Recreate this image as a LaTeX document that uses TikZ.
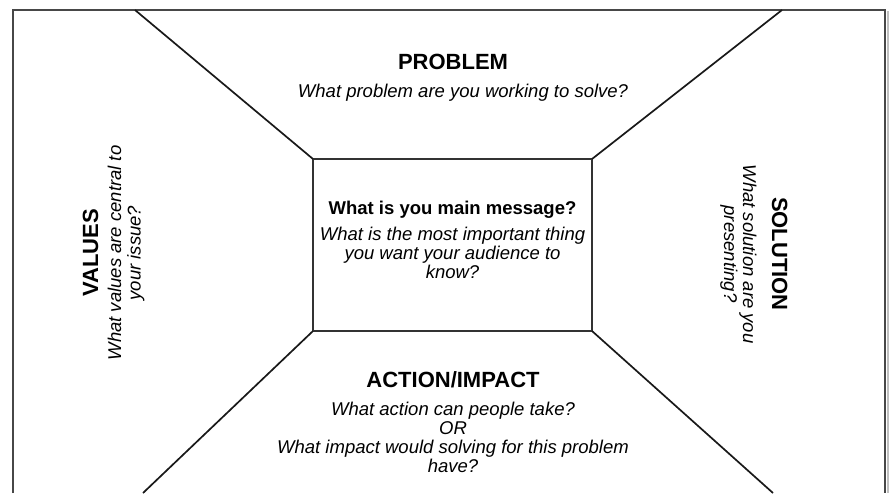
\documentclass[tikz,border=0pt]{standalone}
\usepackage{fontspec}
\setmainfont{Liberation Sans}
\begin{document}
\begin{tikzpicture}[x=1pt,y=-1pt,
  head/.style={font=\fontsize{22}{24}\selectfont\bfseries, inner sep=0pt, anchor=base},
  sub/.style={font=\fontsize{18.5}{19}\selectfont\bfseries, inner sep=0pt, anchor=base},
  ital/.style={font=\fontsize{18.5}{19}\selectfont\itshape, inner sep=0pt, anchor=base},
  frameline/.style={draw=black!72, line width=1.5pt},
  diag/.style={draw=black!90, line width=1.7pt},
  centerbox/.style={draw=black!80, line width=1.9pt, minimum width=279pt, minimum height=172pt, inner sep=0pt, outer sep=0pt}]
\useasboundingbox (0,0) rectangle (889,493);
\fill[white] (0,0) rectangle (889,493);
% frame
\coordinate (fbl) at (13,493);
\coordinate (ftl) at (13,10);
\coordinate (ftr) at (885,10);
\coordinate (fbr) at (885,493);
\coordinate (sh1) at (887.5,11);
\coordinate (sh2) at (887.5,493);
\draw[black!25, line width=2pt] (sh1) -- (sh2);
\draw[frameline] (fbl) -- (ftl) -- (ftr) -- (fbr);
% centre box
\node[centerbox] (box) at (452.5,245) {};
% diagonal ends
\coordinate (dtl) at (135,10);
\coordinate (dtr) at (782,10);
\coordinate (dbl) at (143,493);
\coordinate (dbr) at (773,493);
\draw[diag] (dtl) -- (box.north west);
\draw[diag] (dtr) -- (box.north east);
\draw[diag] (dbl) -- (box.south west);
\draw[diag] (dbr) -- (box.south east);
% top
\node[head] (problem) at (453,69) {PROBLEM};
\node[ital] (problemq) at (463,97) {What problem are you working to solve?};
% centre
\node[sub] (msg) at (452.5,214) {What is you main message?};
\node[ital] (msg1) at (452.5,240) {What is the most important thing};
\node[ital] (msg2) at (452.5,259) {you want your audience to};
\node[ital] (msg3) at (452.5,278) {know?};
% bottom
\node[head] (action) at (453,387) {ACTION/IMPACT};
\node[ital] (act1) at (453,415) {What action can people take?};
\node[ital] (act2) at (453,434) {OR};
\node[ital] (act3) at (453,453) {What impact would solving for this problem};
\node[ital] (act4) at (453,472) {have?};
% left
\node[head, rotate=90] (values) at (98,253) {VALUES};
\node[ital, rotate=90] (val1) at (121,253) {What values are central to};
\node[ital, rotate=90] (val2) at (140.5,253) {your issue?};
% right
\node[head, rotate=-90] (solution) at (772,254) {SOLUTION};
\node[ital, rotate=-90] (sol1) at (743,254) {What solution are you};
\node[ital, rotate=-90] (sol2) at (724,254) {presenting?};
\end{tikzpicture}
\end{document}
